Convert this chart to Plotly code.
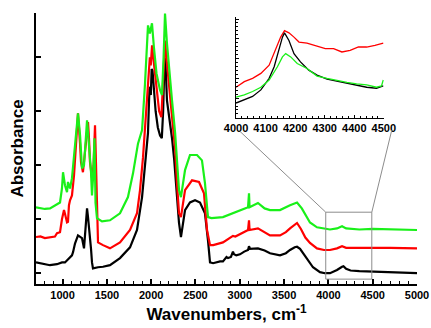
import plotly.graph_objects as go

# ---- main spectra (wavenumber, absorbance in arbitrary offset units) ----
black_x = [700, 745, 800, 858, 937, 993, 1027, 1061, 1084, 1106, 1118, 1140, 1174, 1197, 1219, 1242, 1260,
           1276, 1287, 1309, 1321, 1332, 1343, 1400, 1456, 1535, 1648, 1761, 1840, 1897, 1930, 1964, 1980,
           1990, 1996, 2005, 2015, 2030, 2050, 2075, 2100, 2120, 2135, 2150, 2160, 2178, 2200, 2235, 2260,
           2291, 2314, 2336, 2360, 2382, 2438, 2495, 2551, 2607, 2641, 2664, 2698, 2777, 2810, 2850, 2867,
           2900, 2923, 2935, 2960, 3002, 3050, 3093, 3104, 3115, 3205, 3280, 3341, 3454, 3520, 3567, 3620,
           3646, 3680, 3720, 3770, 3826, 3905, 3960, 4018, 4097, 4154, 4170, 4200, 4250, 4350, 4500, 4700,
           4850, 5000]
black_y = [0.20, 0.185, 0.17, 0.148, 0.167, 0.20, 0.20, 0.26, 0.28, 0.33, 0.39, 0.55, 0.70, 0.68, 0.65, 0.46, 0.80,
           1.20, 1.04, 0.70, 0.45, 0.20, 0.09, 0.11, 0.12, 0.15, 0.28, 0.48, 0.80, 1.41, 2.04, 2.60, 3.40,
           3.45, 3.30, 3.78, 3.75, 3.40, 3.00, 2.70, 2.55, 2.50, 3.00, 3.95, 3.98, 3.20, 2.95, 2.50, 2.10,
           1.41, 0.93, 0.67, 0.90, 1.17, 1.31, 1.35, 1.31, 1.11, 0.61, 0.20, 0.185, 0.22, 0.22, 0.30, 0.28,
           0.30, 0.40, 0.35, 0.33, 0.35, 0.40, 0.43, 0.50, 0.45, 0.46, 0.42, 0.37, 0.33, 0.37, 0.43, 0.48,
           0.49, 0.45, 0.35, 0.24, 0.11, 0.02, 0.00, 0.00, 0.06, 0.12, 0.13, 0.08, 0.05, 0.04, 0.03, 0.03,
           0.02, 0.00]

red_x = [700, 750, 800, 858, 914, 937, 971, 993, 1016, 1027, 1050, 1061, 1072, 1084, 1106, 1129, 1150, 1174,
         1197, 1208, 1230, 1250, 1287, 1298, 1309, 1332, 1350, 1366, 1378, 1388, 1400, 1456, 1535, 1648,
         1761, 1840, 1874, 1908, 1940, 1965, 1985, 1995, 2010, 2030, 2060, 2090, 2115, 2135, 2156, 2175,
         2200, 2235, 2270, 2291, 2314, 2336, 2360, 2382, 2461, 2540, 2596, 2630, 2664, 2700, 2810, 2867,
         2923, 2950, 3000, 3093, 3104, 3110, 3205, 3280, 3341, 3454, 3520, 3567, 3646, 3690, 3740, 3792,
         3871, 3950, 4018, 4097, 4154, 4200, 4300, 4500, 4700, 5000]
red_y = [0.67, 0.68, 0.65, 0.66, 0.68, 0.74, 0.76, 1.00, 1.17, 1.10, 0.94, 0.95, 1.26, 1.35, 1.44, 1.81, 2.30, 2.96,
         2.40, 2.06, 1.87, 2.20, 2.80, 2.50, 2.06, 1.76, 2.00, 2.74, 1.80, 0.94, 0.57, 0.52, 0.46, 0.57,
         0.80, 1.11, 1.54, 2.15, 2.90, 3.60, 4.00, 3.85, 4.22, 3.90, 3.40, 3.00, 2.89, 3.50, 4.31, 3.94,
         3.50, 3.02, 2.30, 1.67, 1.11, 1.04, 1.30, 1.54, 1.72, 1.69, 1.48, 0.80, 0.52, 0.52, 0.57, 0.63,
         0.69, 0.68, 0.72, 0.80, 0.98, 0.80, 0.83, 0.76, 0.70, 0.70, 0.76, 0.83, 0.93, 0.82, 0.66, 0.56,
         0.46, 0.43, 0.43, 0.46, 0.50, 0.47, 0.47, 0.48, 0.47, 0.46]

green_x = [700, 750, 800, 858, 914, 937, 971, 993, 1005, 1027, 1050, 1061, 1084, 1106, 1140, 1174, 1197, 1219,
           1242, 1276, 1298, 1321, 1332, 1345, 1360, 1372, 1388, 1445, 1535, 1648, 1738, 1795, 1851, 1897,
           1930, 1964, 1985, 2009, 2030, 2060, 2100, 2122, 2140, 2156, 2178, 2200, 2235, 2270, 2291, 2314,
           2336, 2382, 2438, 2517, 2573, 2607, 2641, 2680, 2810, 2923, 3002, 3093, 3104, 3110, 3205, 3280,
           3341, 3454, 3567, 3646, 3700, 3792, 3871, 3950, 4018, 4097, 4154, 4200, 4350, 4500, 4800, 5000]
green_y = [1.22, 1.21, 1.19, 1.20, 1.26, 1.27, 1.31, 1.57, 1.87, 1.63, 1.50, 1.69, 1.57, 1.76, 2.37, 2.96, 2.56, 1.94,
           2.00, 2.83, 2.37, 1.87, 1.44, 1.80, 2.50, 1.30, 1.02, 0.96, 0.98, 1.11, 1.41, 1.85, 2.40, 2.65,
           3.50, 4.59, 4.44, 4.63, 4.20, 3.70, 3.39, 3.30, 4.00, 4.81, 4.26, 3.80, 3.20, 2.60, 2.04, 1.54,
           1.41, 1.91, 2.19, 2.19, 2.09, 1.67, 1.04, 1.02, 1.04, 1.11, 1.15, 1.22, 1.48, 1.22, 1.30, 1.20,
           1.17, 1.17, 1.26, 1.31, 1.20, 0.94, 0.85, 0.83, 0.81, 0.83, 0.87, 0.83, 0.81, 0.82, 0.81, 0.80]

# ---- inset (4000-4500 cm-1, expanded scale) ----
inset_red_x = [4000, 4028, 4056, 4084, 4112, 4134, 4151, 4164, 4179, 4196, 4213, 4240, 4274, 4302, 4330, 4358,
               4386, 4414, 4442, 4470, 4498]
inset_red_y = [3.1, 3.67, 4.0, 4.5, 5.33, 6.83, 8.17, 8.83, 8.6, 8.17, 7.67, 7.57, 7.23, 7.0, 7.0, 6.67,
               6.83, 7.17, 7.17, 7.33, 7.57]
inset_black_x = [4000, 4028, 4056, 4084, 4112, 4129, 4145, 4157, 4164, 4179, 4196, 4218, 4246, 4274, 4308,
                 4341, 4375, 4408, 4442, 4475, 4498]
inset_black_y = [1.5, 1.83, 2.17, 2.83, 4.0, 5.17, 7.0, 8.17, 8.6, 7.83, 6.5, 5.67, 4.83, 4.33, 3.93,
                 3.73, 3.5, 3.33, 3.1, 3.0, 3.23]
inset_green_x = [4000, 4028, 4056, 4084, 4112, 4140, 4157, 4168, 4185, 4207, 4240, 4274, 4308, 4341, 4375,
                 4408, 4442, 4475, 4492, 4498]
inset_green_y = [2.1, 2.33, 2.67, 3.1, 3.83, 5.17, 6.17, 6.5, 6.17, 5.5, 5.0, 4.23, 4.0, 3.77, 3.6,
                 3.43, 3.33, 3.1, 3.23, 3.83]

x_ticks = [1000, 1500, 2000, 2500, 3000, 3500, 4000, 4500, 5000]
inset_ticks = [4000, 4100, 4200, 4300, 4400, 4500]

BLACK, RED, GREEN = "#000000", "#ff0000", "#19f019"

fig = go.Figure()
for xs, ys, c in [(black_x, black_y, BLACK), (red_x, red_y, RED), (green_x, green_y, GREEN)]:
    fig.add_trace(go.Scatter(x=xs, y=ys, mode="lines", line=dict(color=c, width=2.2),
                             showlegend=False, hoverinfo="skip"))
for xs, ys, c in [(inset_red_x, inset_red_y, RED), (inset_black_x, inset_black_y, BLACK),
                  (inset_green_x, inset_green_y, GREEN)]:
    fig.add_trace(go.Scatter(x=xs, y=ys, mode="lines", line=dict(color=c, width=1.3),
                             xaxis="x2", yaxis="y2", showlegend=False, hoverinfo="skip"))

tickfont = dict(family="Liberation Sans, Arial, sans-serif", size=11, color="black", weight="bold")
titlefont = dict(family="Liberation Sans, Arial, sans-serif", size=17, color="black", weight="bold")

fig.update_layout(
    width=431, height=328,
    margin=dict(l=36, r=14, t=13, b=44, autoexpand=False),
    paper_bgcolor="white", plot_bgcolor="white",
    xaxis=dict(range=[700, 5000], tickvals=x_ticks, ticks="inside", ticklen=5, tickwidth=1.5,
               tickcolor="black", showline=True, linecolor="black", linewidth=2, showgrid=False,
               zeroline=False, tickfont=tickfont, automargin=False,
               minor=dict(dtick=100, tick0=0, ticks="inside", ticklen=3, tickcolor="black", tickwidth=1),
               title=dict(text="Wavenumbers, cm<sup>-1</sup>", font=titlefont, standoff=8)),
    yaxis=dict(range=[-0.2, 4.82], tickvals=[0, 1, 2, 3, 4], ticks="inside", ticklen=5, tickwidth=1.5,
               tickcolor="black", showticklabels=False, showline=True, linecolor="black", linewidth=2,
               showgrid=False, zeroline=False, automargin=False,
               title=dict(text="Absorbance", font=titlefont, standoff=6)),
    xaxis2=dict(domain=[0.525, 0.913], anchor="y2", range=[4000, 4500], tickvals=inset_ticks,
                ticks="inside", ticklen=3, tickcolor="black", tickwidth=1, showline=True,
                linecolor="black", linewidth=1.2, showgrid=False, zeroline=False, tickfont=tickfont,
                minor=dict(dtick=20, tick0=4000, ticks="inside", ticklen=2, tickcolor="black")),
    yaxis2=dict(domain=[0.613, 0.985], anchor="x2", range=[0, 10.2], dtick=2, ticks="inside",
                ticklen=3, tickcolor="black", tickwidth=1, showticklabels=False, showline=True,
                linecolor="black", linewidth=1.2, showgrid=False, zeroline=False,
                minor=dict(dtick=0.4, ticks="inside", ticklen=2, tickcolor="black")),
)

# zoom box and connector lines
box_x = [3970, 4490]
box_y = [-0.11, 1.13]
fig.add_shape(type="rect", xref="x", yref="y", x0=box_x[0], x1=box_x[1], y0=box_y[0], y1=box_y[1],
              line=dict(color="#8c8c8c", width=1))
fig.add_shape(type="line", xref="x", yref="y", x0=box_x[0], y0=box_y[1], x1=3000, y1=2.63,
              line=dict(color="#8c8c8c", width=1))
fig.add_shape(type="line", xref="x", yref="y", x0=box_x[1], y0=box_y[1], x1=4715, y1=2.65,
              line=dict(color="#8c8c8c", width=1))

fig.write_html("out.html", config={"displayModeBar": False},
               post_script="document.body.style.margin='0';document.body.style.padding='0';"
                           "document.body.style.overflow='hidden';")
